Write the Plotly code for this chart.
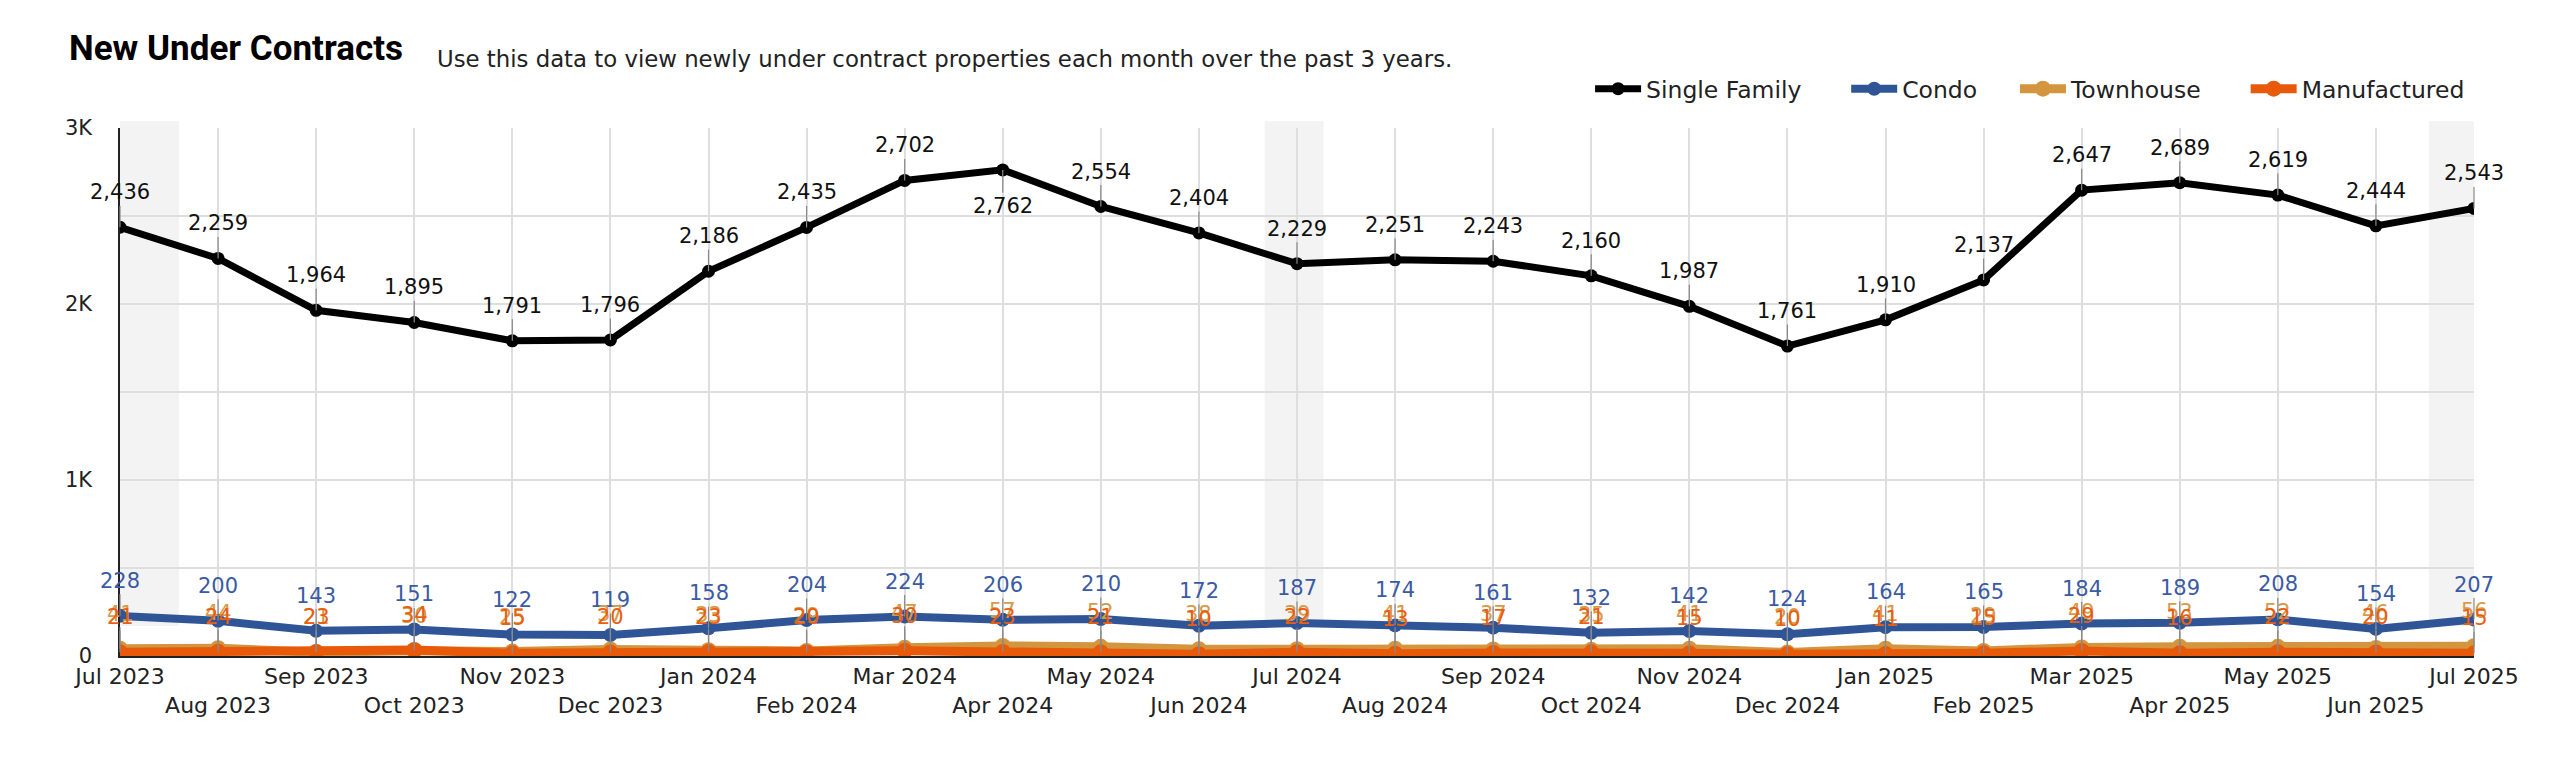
import plotly.graph_objects as go

# ---------------- data ----------------
months = ["Jul 2023", "Aug 2023", "Sep 2023", "Oct 2023", "Nov 2023", "Dec 2023",
          "Jan 2024", "Feb 2024", "Mar 2024", "Apr 2024", "May 2024", "Jun 2024",
          "Jul 2024", "Aug 2024", "Sep 2024", "Oct 2024", "Nov 2024", "Dec 2024",
          "Jan 2025", "Feb 2025", "Mar 2025", "Apr 2025", "May 2025", "Jun 2025",
          "Jul 2025"]
single_family = [2436, 2259, 1964, 1895, 1791, 1796, 2186, 2435, 2702, 2762, 2554, 2404,
                 2229, 2251, 2243, 2160, 1987, 1761, 1910, 2137, 2647, 2689, 2619, 2444, 2543]
condo = [228, 200, 143, 151, 122, 119, 158, 204, 224, 206, 210, 172,
         187, 174, 161, 132, 142, 124, 164, 165, 184, 189, 208, 154, 207]
townhouse = [41, 44, 21, 30, 25, 37, 33, 29, 47, 57, 52, 38,
             39, 41, 37, 35, 41, 20, 41, 29, 49, 53, 52, 46, 56]
manufactured = [21, 24, 23, 34, 15, 20, 23, 20, 30, 23, 21, 10,
                22, 13, 17, 21, 15, 10, 11, 15, 29, 16, 22, 20, 15]
y_tick_vals = [0, 500, 1000, 1500, 2000, 2500, 3000]
y_tick_text = ["0", "", "1K", "", "2K", "", "3K"]
title_text = "New Under Contracts"
subtitle_text = "Use this data to view newly under contract properties each month over the past 3 years."

# ---------------- style ----------------
FONT = "DejaVu Sans"
series = [
    ("Single Family", single_family, "#000000", "#111111", 7, 13, "legend", 0.6245),
    ("Condo", condo, "#2F5597", "#3A5BA3", 8, 14, "legend2", 0.7333),
    ("Townhouse", townhouse, "#D4953F", "#D9994A", 9, 16, "legend3", 0.8050),
    ("Manufactured", manufactured, "#E85A0A", "#E8600F", 9, 16, "legend4", 0.9030),
]

fig = go.Figure()
annotations = []
legends = {}
for name, vals, color, lab_color, lw, ms, leg, legx in series:
    fig.add_trace(go.Scatter(
        x=months, y=vals, name=name, mode="lines+markers",
        line=dict(color=color, width=lw),
        marker=dict(color=color, size=ms),
        hoverinfo="skip", legend=leg,
    ))
    legends[leg] = dict(orientation="h", xanchor="left", x=legx, yanchor="middle",
                        y=1.074, font=dict(family=FONT, size=23.5, color="#222222"),
                        itemwidth=46, bgcolor="rgba(0,0,0,0)")
    for m, v in zip(months, vals):
        below = v > 2720
        annotations.append(dict(
            x=m, y=v, xref="x", yref="y", text=f"{v:,}",
            showarrow=True, arrowhead=0, arrowwidth=1.2, arrowcolor="#8a8a8a",
            ax=0, ay=36 if below else -35, standoff=0,
            font=dict(family=FONT, size=21, color=lab_color),
        ))

# staggered tick labels
tick_text = [t if i % 2 == 0 else "<br>" + t for i, t in enumerate(months)]

# subtitle
annotations.append(dict(
    xref="paper", yref="paper", x=0.1339, y=1.1307, xanchor="left", yanchor="middle",
    text=subtitle_text, showarrow=False,
    font=dict(family=FONT, size=22.8, color="#222222"),
))

# highlighted July bands (shapes)
shapes = []
for x0, x1 in [(0.0, 0.6), (11.67, 12.27), (23.54, 24.13)]:
    shapes.append(dict(type="rect", xref="x", yref="paper", x0=x0, x1=x1,
                       y0=0.057, y1=1.013, fillcolor="#F3F3F3",
                       line=dict(width=0), layer="below"))

fig.update_layout(
    width=2560, height=761,
    margin=dict(l=112, r=94, t=120, b=113),
    paper_bgcolor="white", plot_bgcolor="white",
    title=dict(text="<b>" + title_text + "</b>", x=61 / 2560, xanchor="left",
               y=1 - 40 / 761, yanchor="middle",
               font=dict(family="Roboto", size=35, color="#000000")),
    xaxis=dict(type="category", range=[0, 24], tickmode="array",
               tickvals=months, ticktext=tick_text, tickangle=0,
               showgrid=True, gridcolor="#DEDEDE", gridwidth=2,
               showline=True, linecolor="#222222", linewidth=1.5,
               ticks="", tickfont=dict(family=FONT, size=22, color="#222222"),
               zeroline=False, fixedrange=True),
    yaxis=dict(range=[0, 3000], tickmode="array", tickvals=y_tick_vals,
               ticktext=y_tick_text, showgrid=True, gridcolor="#DEDEDE", gridwidth=2,
               showline=True, linecolor="#222222", linewidth=1.5,
               ticks="", ticklabelstandoff=22,
               tickfont=dict(family=FONT, size=21, color="#222222"),
               zeroline=False, fixedrange=True),
    annotations=annotations,
    shapes=shapes,
    showlegend=True,
    **legends,
)

fig.write_html("out.html")
